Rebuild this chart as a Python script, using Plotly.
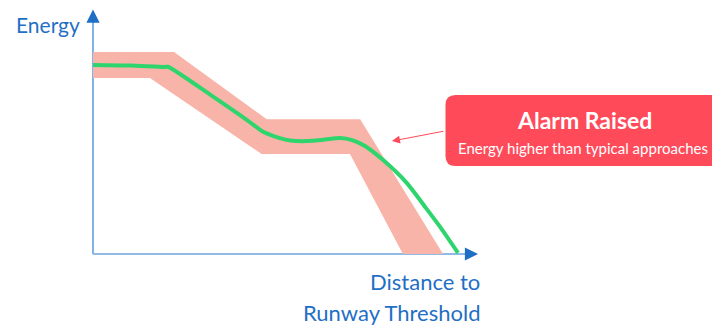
import plotly.graph_objects as go

# ---- data (distance units along x, energy units along y) ----
band_upper_x = [0, 22.2, 47.6, 73.2, 95.9]
band_upper_y = [100, 100, 66.7, 66.7, 0]
band_lower_x = [0, 15.6, 46.2, 70.4, 84.9]
band_lower_y = [87.1, 87.1, 49.5, 49.5, 0]

flight_x = [0, 10.1, 19.7, 20.5, 32.9, 42.2, 46.6, 51.2, 54.0, 58.6, 63.6, 67.7, 71.0, 74.5, 79.5, 86.0, 91.0, 95.1, 100]
flight_y = [93.6, 93.3, 92.6, 92.7, 77.9, 66.3, 60.5, 57.4, 56.2, 55.9, 56.7, 57.4, 56.4, 53.5, 46.5, 35.1, 23.3, 13.4, 0.5]

W, H = 712, 326
AXIS_BLUE = "#1f6fc5"
YLINE = "#3d8bd5"
XLINE = "#8fbbe5"
BAND = "#f9b4a9"
GREEN = "#2ed46c"
RED = "#ff4a5a"
FONT = "Lato"

fig = go.Figure()

fig.add_trace(go.Scatter(
    x=band_upper_x + band_lower_x[::-1],
    y=band_upper_y + band_lower_y[::-1],
    fill="toself", fillcolor=BAND, mode="lines",
    line=dict(width=0, color=BAND), hoverinfo="skip", showlegend=False))

fig.add_trace(go.Scatter(
    x=flight_x, y=flight_y, mode="lines",
    line=dict(color=GREEN, width=4, shape="spline", smoothing=0.7),
    hoverinfo="skip", showlegend=False))

# axis lines
fig.add_shape(type="line", x0=0, y0=0, x1=0, y1=118, xref="x", yref="y",
              line=dict(color=YLINE, width=1.3), layer="below")
fig.add_shape(type="line", x0=0, y0=0, x1=103, y1=0, xref="x", yref="y",
              line=dict(color=XLINE, width=2), layer="below")
# arrowheads
fig.add_annotation(x=0, y=121, ax=0, ay=115, xref="x", yref="y", axref="x", ayref="y",
                   text="", showarrow=True, arrowhead=2, arrowsize=2.2, arrowwidth=1.2,
                   arrowcolor=AXIS_BLUE, standoff=0)
fig.add_annotation(x=105.5, y=0, ax=102, ay=0, xref="x", yref="y", axref="x", ayref="y",
                   text="", showarrow=True, arrowhead=2, arrowsize=2.2, arrowwidth=1.2,
                   arrowcolor=AXIS_BLUE, standoff=0)

# red pointer arrow
fig.add_annotation(x=81.9, y=55.9, ax=96.4, ay=60.9, xref="x", yref="y", axref="x", ayref="y",
                   text="", showarrow=True, arrowhead=2, arrowsize=1.6, arrowwidth=1,
                   arrowcolor=RED, standoff=0)

# alarm box (paper coords, rounded left corners)
def px(x):
    return x / W

def py(y):
    return 1 - y / H

x0, x1, y0, y1, r = 445.5, 730, 95, 166, 10
path = (f"M {px(x0+r)},{py(y0)} L {px(x1)},{py(y0)} L {px(x1)},{py(y1)} L {px(x0+r)},{py(y1)} "
        f"Q {px(x0)},{py(y1)} {px(x0)},{py(y1-r)} L {px(x0)},{py(y0+r)} "
        f"Q {px(x0)},{py(y0)} {px(x0+r)},{py(y0)} Z")
fig.add_shape(type="path", path=path, xref="paper", yref="paper",
              fillcolor=RED, line=dict(width=0), layer="above")

fig.add_annotation(x=px(584), y=py(120), xref="paper", yref="paper", text="<b>Alarm Raised</b>",
                   showarrow=False, font=dict(family=FONT, size=23, color="white"),
                   xanchor="center", yanchor="middle")
fig.add_annotation(x=px(583), y=py(148), xref="paper", yref="paper",
                   text="Energy higher than typical approaches",
                   showarrow=False, font=dict(family=FONT, size=15, color="white"),
                   xanchor="center", yanchor="middle")

# axis labels
fig.add_annotation(x=px(14), y=py(24), xref="paper", yref="paper", text="Energy",
                   showarrow=False, font=dict(family=FONT, size=21, color=AXIS_BLUE),
                   xanchor="left", yanchor="middle")
fig.add_annotation(x=px(482), y=py(281), xref="paper", yref="paper", text="Distance to",
                   showarrow=False, font=dict(family=FONT, size=22, color=AXIS_BLUE),
                   xanchor="right", yanchor="middle")
fig.add_annotation(x=px(482), y=py(312), xref="paper", yref="paper", text="Runway Threshold",
                   showarrow=False, font=dict(family=FONT, size=22, color=AXIS_BLUE),
                   xanchor="right", yanchor="middle")

SX, SY = 3.65, 2.02
fig.update_layout(
    width=W, height=H, margin=dict(l=0, r=0, t=0, b=0),
    paper_bgcolor="white", plot_bgcolor="white",
    xaxis=dict(range=[(0 - 93) / SX, (W - 93) / SX], visible=False, fixedrange=True),
    yaxis=dict(range=[(254 - H) / SY, 254 / SY], visible=False, fixedrange=True),
    showlegend=False,
)

fig.write_html("out.html", config={"displayModeBar": False},
               post_script="document.body.style.margin='0';document.body.style.overflow='hidden';")
